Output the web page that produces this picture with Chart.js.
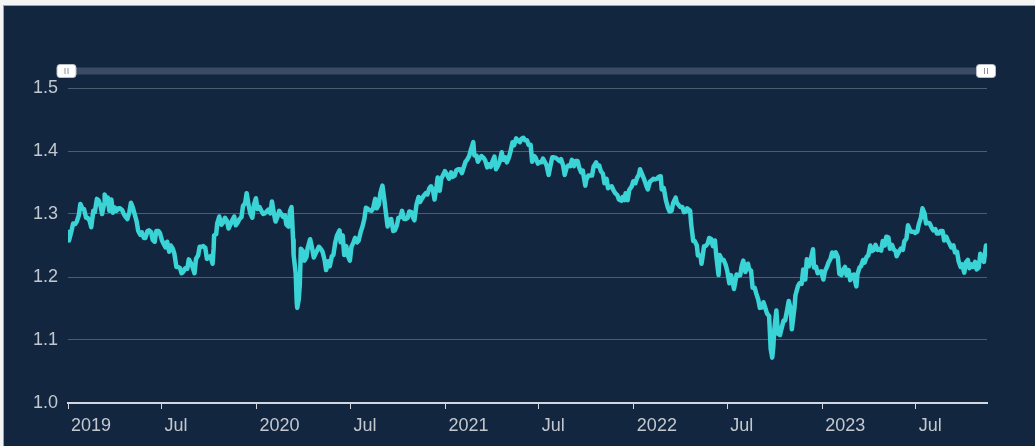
<!DOCTYPE html>
<html>
<head>
<meta charset="utf-8">
<script src="https://cdn.jsdelivr.net/npm/chart.js@4.4.1/dist/chart.umd.min.js"></script>
<style>
  html, body { margin: 0; padding: 0; background: #f4f4f4; overflow: hidden; }
  #wrap {
    position: absolute; left: 3px; top: 5px;
    width: 1031px; height: 440px;
    background: #13263f;
    border-top: 1px solid #9da3ab;
    border-left: 1px solid #9da3ab;
  }
  canvas { display: block; }
</style>
</head>
<body>
<div id="wrap"><canvas id="fx" width="1031" height="440"></canvas></div>
<script>
// GBP/USD (date, rate)
const y2019 = [
  ['01-01',1.275],['01-03',1.258],['01-08',1.274],['01-11',1.285],['01-15',1.284],['01-18',1.288],
  ['01-22',1.298],['01-25',1.316],['01-29',1.308],['02-01',1.308],['02-05',1.294],['02-08',1.294],
  ['02-12',1.289],['02-15',1.279],['02-19',1.305],['02-22',1.303],['02-26',1.324],['03-01',1.322],
  ['03-05',1.313],['03-08',1.300],['03-12',1.316],['03-13',1.331],['03-15',1.326],['03-19',1.326],
  ['03-22',1.305],['03-26',1.323],['03-29',1.302],['04-02',1.310],['04-05',1.305],['04-09',1.309],
  ['04-12',1.309],['04-16',1.306],['04-19',1.300],['04-23',1.295],['04-26',1.292],['04-30',1.304],
  ['05-03',1.318],['05-07',1.309],['05-10',1.300],['05-14',1.288],['05-17',1.273],['05-21',1.267],
  ['05-24',1.271],['05-28',1.262],['05-31',1.262],['06-04',1.273],['06-07',1.274],['06-11',1.271],
  ['06-14',1.259],['06-18',1.256],['06-21',1.273],['06-25',1.273],['06-28',1.270],['07-02',1.258],
  ['07-05',1.253],['07-09',1.247],['07-12',1.256],['07-16',1.240],['07-19',1.250],['07-23',1.245],
  ['07-26',1.237],['07-30',1.216],['08-02',1.216],['08-06',1.214],['08-09',1.206],['08-13',1.209],
  ['08-16',1.214],['08-20',1.213],['08-23',1.228],['08-27',1.222],['08-30',1.216],['09-03',1.206],
  ['09-06',1.229],['09-10',1.234],['09-13',1.248],['09-17',1.248],['09-20',1.249],['09-24',1.246],
  ['09-27',1.229],['10-01',1.231],['10-04',1.233],['10-08',1.221],['10-10',1.245],['10-11',1.266],
  ['10-15',1.268],['10-17',1.285],['10-21',1.296],['10-25',1.283],['10-29',1.287],['11-01',1.294],
  ['11-05',1.289],['11-08',1.277],['11-12',1.284],['11-15',1.290],['11-19',1.296],['11-22',1.282],
  ['11-26',1.287],['11-29',1.292],['12-03',1.295],['12-06',1.313],['12-10',1.317],['12-13',1.333],
  ['12-17',1.313],['12-20',1.301],['12-24',1.294],['12-27',1.314],['12-31',1.325]
];
const y2020 = [
  ['01-03',1.308],['01-07',1.311],['01-10',1.306],['01-14',1.300],['01-17',1.301],['01-21',1.304],
  ['01-24',1.307],['01-28',1.301],['01-31',1.320],['02-04',1.300],['02-07',1.288],['02-11',1.296],
  ['02-14',1.305],['02-18',1.300],['02-21',1.296],['02-25',1.298],['02-28',1.283],['03-03',1.280],
  ['03-06',1.305],['03-09',1.311],['03-12',1.259],['03-13',1.235],['03-17',1.206],['03-19',1.160],
  ['03-20',1.151],['03-23',1.165],['03-25',1.188],['03-27',1.245],['03-31',1.241],['04-03',1.226],
  ['04-07',1.232],['04-09',1.245],['04-14',1.260],['04-17',1.249],['04-21',1.231],['04-24',1.236],
  ['04-28',1.243],['05-01',1.248],['05-05',1.244],['05-08',1.240],['05-12',1.227],['05-15',1.211],
  ['05-19',1.225],['05-22',1.217],['05-26',1.233],['05-29',1.235],['06-02',1.256],['06-05',1.266],
  ['06-10',1.274],['06-12',1.255],['06-16',1.266],['06-19',1.235],['06-23',1.249],['06-26',1.234],
  ['06-30',1.226],['07-03',1.248],['07-07',1.255],['07-10',1.262],['07-14',1.255],['07-17',1.258],
  ['07-21',1.272],['07-24',1.279],['07-28',1.292],['07-31',1.310],['08-04',1.308],['08-07',1.306],
  ['08-11',1.305],['08-14',1.309],['08-18',1.324],['08-21',1.309],['08-25',1.315],['08-28',1.333],
  ['09-01',1.345],['09-04',1.327],['09-08',1.300],['09-11',1.280],['09-15',1.291],['09-18',1.292],
  ['09-22',1.273],['09-25',1.274],['09-29',1.282],['10-02',1.294],['10-06',1.295],['10-09',1.305],
  ['10-13',1.292],['10-16',1.292],['10-20',1.294],['10-23',1.304],['10-27',1.303],['10-30',1.295],
  ['11-02',1.290],['11-06',1.315],['11-10',1.327],['11-13',1.319],['11-17',1.325],['11-20',1.329],
  ['11-24',1.333],['11-27',1.331],['12-01',1.341],['12-04',1.344],['12-08',1.337],['12-11',1.323],
  ['12-15',1.345],['12-17',1.358],['12-21',1.337],['12-24',1.356],['12-31',1.368]
];
const y2021 = [
  ['01-05',1.361],['01-08',1.356],['01-12',1.366],['01-15',1.359],['01-19',1.361],['01-22',1.369],
  ['01-26',1.371],['01-29',1.371],['02-02',1.365],['02-05',1.373],['02-09',1.383],['02-12',1.386],
  ['02-16',1.392],['02-19',1.401],['02-24',1.414],['02-26',1.393],['03-02',1.393],['03-05',1.383],
  ['03-09',1.389],['03-12',1.392],['03-16',1.389],['03-19',1.385],['03-23',1.374],['03-26',1.379],
  ['03-30',1.375],['04-02',1.383],['04-06',1.391],['04-09',1.371],['04-13',1.377],['04-16',1.383],
  ['04-20',1.398],['04-23',1.386],['04-27',1.390],['04-30',1.382],['05-04',1.390],['05-07',1.399],
  ['05-11',1.414],['05-14',1.409],['05-18',1.420],['05-21',1.417],['05-25',1.414],['05-28',1.419],
  ['06-01',1.421],['06-04',1.417],['06-08',1.417],['06-11',1.410],['06-15',1.410],['06-17',1.392],
  ['06-18',1.383],['06-22',1.392],['06-25',1.389],['06-29',1.380],['07-02',1.382],['07-06',1.382],
  ['07-09',1.388],['07-13',1.382],['07-16',1.377],['07-20',1.362],['07-23',1.375],['07-27',1.390],
  ['07-30',1.390],['08-03',1.389],['08-06',1.387],['08-10',1.384],['08-13',1.387],['08-17',1.377],
  ['08-20',1.362],['08-24',1.374],['08-27',1.377],['08-31',1.376],['09-03',1.386],['09-07',1.376],
  ['09-10',1.384],['09-14',1.384],['09-17',1.374],['09-21',1.366],['09-24',1.369],['09-29',1.345],
  ['10-01',1.355],['10-05',1.361],['10-08',1.361],['10-12',1.361],['10-15',1.375],['10-20',1.382],
  ['10-22',1.376],['10-26',1.377],['10-29',1.368],['11-02',1.364],['11-05',1.349],['11-09',1.356],
  ['11-12',1.341],['11-16',1.343],['11-19',1.344],['11-23',1.337],['11-26',1.333],['11-30',1.330],
  ['12-03',1.323],['12-08',1.321],['12-10',1.327],['12-14',1.322],['12-16',1.333],['12-20',1.322],
  ['12-23',1.338],['12-28',1.344],['12-31',1.352]
];
const y2022 = [
  ['01-04',1.349],['01-07',1.357],['01-11',1.363],['01-13',1.371],['01-18',1.361],['01-21',1.355],
  ['01-25',1.345],['01-28',1.339],['02-01',1.351],['02-04',1.353],['02-08',1.356],['02-11',1.355],
  ['02-15',1.356],['02-18',1.359],['02-22',1.360],['02-24',1.339],['02-28',1.341],['03-04',1.322],
  ['03-08',1.310],['03-11',1.304],['03-15',1.305],['03-18',1.317],['03-23',1.326],['03-25',1.318],
  ['03-29',1.314],['04-01',1.311],['04-05',1.311],['04-08',1.303],['04-12',1.304],['04-14',1.309],
  ['04-20',1.305],['04-22',1.284],['04-26',1.257],['04-29',1.257],['05-03',1.250],['05-05',1.234],
  ['05-10',1.234],['05-12',1.221],['05-13',1.226],['05-17',1.249],['05-20',1.249],['05-24',1.253],
  ['05-27',1.262],['05-31',1.260],['06-03',1.249],['06-07',1.258],['06-10',1.231],['06-14',1.203],
  ['06-16',1.235],['06-21',1.227],['06-24',1.227],['06-28',1.219],['07-01',1.209],['07-05',1.190],
  ['07-08',1.203],['07-12',1.190],['07-14',1.181],['07-19',1.204],['07-22',1.202],['07-26',1.203],
  ['07-29',1.218],['08-01',1.226],['08-05',1.208],['08-10',1.221],['08-12',1.213],['08-16',1.210],
  ['08-19',1.183],['08-23',1.183],['08-26',1.174],['08-30',1.164],['09-02',1.151],['09-07',1.152],
  ['09-09',1.160],['09-13',1.150],['09-16',1.142],['09-20',1.138],['09-23',1.086],['09-26',1.072],
  ['09-28',1.088],['09-30',1.116],['10-04',1.147],['10-07',1.110],['10-11',1.108],['10-14',1.118],
  ['10-18',1.131],['10-21',1.131],['10-25',1.148],['10-28',1.162],['11-01',1.148],['11-03',1.117],
  ['11-08',1.151],['11-10',1.171],['11-15',1.186],['11-18',1.190],['11-22',1.189],['11-25',1.212],
  ['11-29',1.196],['12-02',1.228],['12-06',1.217],['12-09',1.226],['12-14',1.244],['12-16',1.215],
  ['12-20',1.216],['12-23',1.206],['12-30',1.209]
];
const y2023 = [
  ['01-03',1.196],['01-06',1.209],['01-10',1.216],['01-13',1.223],['01-17',1.229],['01-20',1.239],
  ['01-24',1.233],['01-27',1.239],['01-31',1.232],['02-03',1.205],['02-07',1.203],['02-10',1.211],
  ['02-14',1.216],['02-17',1.203],['02-21',1.211],['02-24',1.195],['02-28',1.203],['03-03',1.204],
  ['03-07',1.188],['03-08',1.185],['03-10',1.204],['03-14',1.215],['03-17',1.217],['03-21',1.227],
  ['03-24',1.223],['03-28',1.232],['03-31',1.234],['04-04',1.250],['04-07',1.241],['04-11',1.243],
  ['04-14',1.251],['04-18',1.243],['04-21',1.244],['04-25',1.242],['04-28',1.257],['05-02',1.250],
  ['05-05',1.264],['05-09',1.263],['05-12',1.245],['05-16',1.251],['05-19',1.244],['05-23',1.241],
  ['05-25',1.233],['05-30',1.241],['06-02',1.245],['06-06',1.243],['06-09',1.257],['06-13',1.261],
  ['06-16',1.282],['06-20',1.274],['06-23',1.272],['06-27',1.272],['06-30',1.270],['07-04',1.272],
  ['07-07',1.284],['07-11',1.294],['07-14',1.309],['07-18',1.301],['07-21',1.285],['07-25',1.286],
  ['07-28',1.285],['08-01',1.278],['08-04',1.274],['08-08',1.276],['08-11',1.269],['08-15',1.269],
  ['08-18',1.273],['08-22',1.273],['08-25',1.258],['08-29',1.264],['09-01',1.258],['09-05',1.252],
  ['09-08',1.247],['09-12',1.250],['09-15',1.239],['09-19',1.240],['09-22',1.225],['09-26',1.216],
  ['09-29',1.220],['10-03',1.207],['10-06',1.223],['10-10',1.227],['10-13',1.214],['10-17',1.220],
  ['10-20',1.216],['10-24',1.224],['10-27',1.212],['10-31',1.215],['11-03',1.237],['11-07',1.228],
  ['11-10',1.224],['11-14',1.250],['11-16',1.247]
];

const tickDates = ['2019-01-01','2019-07-01','2020-01-01','2020-07-01','2021-01-01',
                   '2021-07-01','2022-01-01','2022-07-01','2023-01-01','2023-07-01'];
const tickLabels = ['2019','Jul','2020','Jul','2021','Jul','2022','Jul','2023','Jul'];

const years = { 2019: y2019, 2020: y2020, 2021: y2021, 2022: y2022, 2023: y2023 };
const points = [];
Object.keys(years).forEach(yr => {
  years[yr].forEach(([md, v]) => points.push({ x: Date.parse(yr + '-' + md), y: v }));
});

const labelColor = '#c3c8d0';
const labelFont = { family: '"Liberation Sans", Arial, sans-serif', size: 18 };

// range slider drawn above the plot
const navigatorBar = {
  id: 'navigatorBar',
  afterDraw(chart) {
    const { ctx, chartArea: a } = chart;
    const cy = a.top - 17;
    ctx.save();
    ctx.fillStyle = '#3a4b63';
    ctx.fillRect(a.left - 6, cy - 3.5, a.right - a.left + 12, 7);
    [a.left - 1.5, a.right - 1].forEach(cx => {
      ctx.fillStyle = '#ffffff';
      ctx.strokeStyle = '#b8bec6';
      ctx.lineWidth = 1;
      ctx.beginPath();
      ctx.roundRect(cx - 9.5, cy - 6.5, 19, 13, 3);
      ctx.fill();
      ctx.stroke();
      ctx.strokeStyle = '#8a9098';
      ctx.beginPath();
      ctx.moveTo(cx - 1.5, cy - 3); ctx.lineTo(cx - 1.5, cy + 3);
      ctx.moveTo(cx + 1.5, cy - 3); ctx.lineTo(cx + 1.5, cy + 3);
      ctx.stroke();
    });
    ctx.restore();
  }
};

new Chart(document.getElementById('fx'), {
  type: 'line',
  data: {
    datasets: [{
      label: 'GBP/USD',
      data: points,
      borderColor: '#3ad4d6',
      borderWidth: 4.5,
      borderJoinStyle: 'round',
      pointRadius: 0,
      tension: 0,
      fill: false
    }]
  },
  options: {
    responsive: false,
    animation: false,
    layout: { padding: { left: 0, right: 48, top: 82, bottom: 0 } },
    plugins: { legend: { display: false }, tooltip: { enabled: false } },
    scales: {
      x: {
        type: 'linear',
        min: Date.parse('2019-01-01'),
        max: Date.parse('2023-11-16'),
        afterBuildTicks: s => { s.ticks = tickDates.map(d => ({ value: Date.parse(d) })); },
        afterFit: s => { s.height = 43; },
        border: { display: true, color: '#d3d7dd', width: 2 },
        grid: { drawOnChartArea: false, drawTicks: true, tickLength: 6, tickColor: '#d3d7dd', tickWidth: 1 },
        ticks: {
          autoSkip: false, maxRotation: 0, align: 'start', labelOffset: 3, padding: 6,
          color: labelColor, font: labelFont,
          callback: (v, i) => tickLabels[i]
        }
      },
      y: {
        min: 1.0,
        max: 1.5,
        afterFit: s => { s.width = 64; },
        border: { display: false },
        grid: { color: 'rgba(255,255,255,0.25)', lineWidth: 1, drawTicks: false },
        ticks: {
          stepSize: 0.1, padding: 10, color: labelColor, font: labelFont,
          callback: v => v.toFixed(1)
        }
      }
    }
  },
  plugins: [navigatorBar]
});
</script>
</body>
</html>
